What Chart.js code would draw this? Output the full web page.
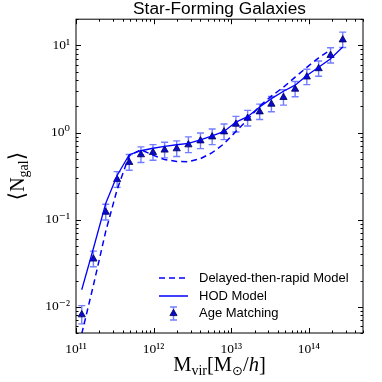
<!DOCTYPE html>
<html>
<head>
<meta charset="utf-8">
<script src="https://cdn.jsdelivr.net/npm/chart.js@4.4.1/dist/chart.umd.min.js"></script>
<style>
  html, body { margin: 0; padding: 0; background: #fff; }
</style>
</head>
<body>
<canvas id="chart" width="382" height="382"></canvas>
<script>
// halo mass bins (M_sun/h)
const massBins = [1.186e11, 1.675e11, 2.42e11, 3.39e11, 4.85e11, 6.87e11, 9.82e11, 1.387e12,
  1.986e12, 2.81e12, 4.02e12, 5.69e12, 8.09e12, 1.151e13, 1.63e13, 2.33e13, 3.30e13,
  4.72e13, 6.67e13, 9.44e13, 1.34e14, 1.91e14, 2.74e14];
const ageMatching = [0.0081, 0.0354, 0.122, 0.289, 0.455, 0.557, 0.591, 0.63, 0.652, 0.724,
  0.804, 0.893, 1.02, 1.247, 1.46, 1.73, 2.12, 2.53, 3.15, 4.35, 5.42, 7.69, 11.6];
// half-length of the error bars, in dex
const ageErrDex = [0.105, 0.09, 0.09, 0.09, 0.09, 0.09, 0.09, 0.09, 0.09, 0.09, 0.09, 0.09,
  0.09, 0.09, 0.09, 0.088, 0.088, 0.088, 0.088, 0.088, 0.088, 0.088, 0.088];
const hodModel = [0.0157, 0.0466, 0.154, 0.321, 0.557, 0.618, 0.66, 0.692, 0.724, 0.753, 0.826,
  0.917, 1.03, 1.32, 1.52, 1.96, 2.45, 2.98, 3.5, 4.51, 5.61, 7.02, 9.57];
const delayedModel = [0.0049, 0.0176, 0.0738, 0.222, 0.542, 0.635, 0.55, 0.489, 0.466, 0.463,
  0.501, 0.587, 0.743, 1.03, 1.41, 2.01, 2.62, 3.32, 4.32, 5.61, 7.2, 8.89];
const xTicks = [1e11, 1e12, 1e13, 1e14];
const yTicks = [0.01, 0.1, 1, 10];

const BLUE = '#0000ff';
const SERIF = '"Liberation Serif", "DejaVu Serif", serif';
const SANS = '"Liberation Sans", Arial, sans-serif';

const sup = { '0': '⁰', '1': '¹', '2': '²', '3': '³', '4': '⁴', '5': '⁵', '6': '⁶', '7': '⁷', '8': '⁸', '9': '⁹', '-': '⁻' };
function powLabel(v) {
  const e = String(Math.round(Math.log10(v)));
  return '10' + e.split('').map(c => sup[c]).join('');
}

function pts(ys) {
  return ys.map((y, i) => ({ x: massBins[i], y: y }));
}

// draws a run of text pieces, some lowered as subscripts
function drawPieces(ctx, pieces, cx, baseline) {
  let total = 0;
  pieces.forEach(p => { ctx.font = p.font; p.w = ctx.measureText(p.t).width; total += p.w; });
  let x = cx - total / 2;
  pieces.forEach(p => {
    ctx.font = p.font;
    ctx.fillText(p.t, x, baseline + (p.dy || 0));
    x += p.w;
  });
}

const framePlugin = {
  id: 'frame',
  beforeDatasetDraw(chart, args) {
    if (args.index !== 2) return;
    const ctx = chart.ctx, xs = chart.scales.x, ys = chart.scales.y;
    ctx.save();
    ctx.strokeStyle = 'rgba(20, 40, 255, 0.6)';
    ctx.lineWidth = 1.4;
    ageMatching.forEach((v, i) => {
      const px = xs.getPixelForValue(massBins[i]);
      const lo = ys.getPixelForValue(v / Math.pow(10, ageErrDex[i]));
      const hi = ys.getPixelForValue(v * Math.pow(10, ageErrDex[i]));
      ctx.beginPath();
      ctx.moveTo(px, lo); ctx.lineTo(px, hi);
      ctx.moveTo(px - 3.5, lo); ctx.lineTo(px + 3.5, lo);
      ctx.moveTo(px - 3.5, hi); ctx.lineTo(px + 3.5, hi);
      ctx.stroke();
    });
    ctx.restore();
  },
  afterDraw(chart) {
    const ctx = chart.ctx, a = chart.chartArea;
    const xs = chart.scales.x, ys = chart.scales.y;
    ctx.save();
    ctx.strokeStyle = '#000';
    ctx.lineWidth = 1;
    ctx.strokeRect(a.left, a.top, a.right - a.left, a.bottom - a.top);

    // inward ticks on all four sides
    ctx.beginPath();
    for (let d = 11; d <= 14; d++) {
      for (let k = 1; k <= 9; k++) {
        const v = k * Math.pow(10, d);
        if (v > xs.max) continue;
        const px = Math.round(xs.getPixelForValue(v)) + 0.5;
        const len = k === 1 ? 5 : 2.5;
        ctx.moveTo(px, a.bottom); ctx.lineTo(px, a.bottom - len);
        ctx.moveTo(px, a.top); ctx.lineTo(px, a.top + len);
      }
    }
    for (let d = -3; d <= 1; d++) {
      for (let k = 1; k <= 9; k++) {
        const v = k * Math.pow(10, d);
        if (v < ys.min || v > ys.max) continue;
        const py = Math.round(ys.getPixelForValue(v)) + 0.5;
        const len = k === 1 ? 5 : 2.5;
        ctx.moveTo(a.left, py); ctx.lineTo(a.left + len, py);
        ctx.moveTo(a.right, py); ctx.lineTo(a.right - len, py);
      }
    }
    ctx.stroke();

    // axis titles
    ctx.fillStyle = '#000';
    ctx.textBaseline = 'alphabetic';
    drawPieces(ctx, [
      { t: 'M', font: '20.5px ' + SERIF },
      { t: 'vir', font: '14px ' + SERIF, dy: 4 },
      { t: '[M', font: '20.5px ' + SERIF },
      { t: '⊙', font: '13px "DejaVu Sans"', dy: 4 },
      { t: '/', font: '20.5px ' + SERIF },
      { t: 'h', font: 'italic 20.5px ' + SERIF },
      { t: ']', font: '20.5px ' + SERIF }
    ], (a.left + a.right) / 2, 371);

    ctx.save();
    ctx.translate(24, (a.top + a.bottom) / 2);
    ctx.rotate(-Math.PI / 2);
    drawPieces(ctx, [
      { t: '⟨', font: '22px "DejaVu Serif"' },
      { t: 'N', font: '20px ' + SERIF },
      { t: 'gal', font: '14px ' + SERIF, dy: 4 },
      { t: '⟩', font: '22px "DejaVu Serif"' }
    ], 0, 0);
    ctx.restore();

    // legend, lower right inside the axes
    const lx0 = 159, lx1 = 188, tx = 199;
    const rows = [278, 296, 313.5];
    ctx.strokeStyle = BLUE;
    ctx.lineWidth = 1.5;
    ctx.setLineDash([6, 4]);
    ctx.beginPath(); ctx.moveTo(lx0, rows[0]); ctx.lineTo(lx1, rows[0]); ctx.stroke();
    ctx.setLineDash([]);
    ctx.beginPath(); ctx.moveTo(lx0, rows[1]); ctx.lineTo(lx1, rows[1]); ctx.stroke();
    const mx = (lx0 + lx1) / 2;
    ctx.strokeStyle = 'rgba(20, 40, 255, 0.6)';
    ctx.lineWidth = 1.4;
    ctx.beginPath();
    ctx.moveTo(mx, rows[2] - 6.5); ctx.lineTo(mx, rows[2] + 6.5);
    ctx.moveTo(mx - 3.5, rows[2] - 6.5); ctx.lineTo(mx + 3.5, rows[2] - 6.5);
    ctx.moveTo(mx - 3.5, rows[2] + 6.5); ctx.lineTo(mx + 3.5, rows[2] + 6.5);
    ctx.stroke();
    ctx.fillStyle = '#0a0acc';
    ctx.strokeStyle = '#000050';
    ctx.lineWidth = 0.8;
    ctx.beginPath();
    ctx.moveTo(mx, rows[2] - 4.2); ctx.lineTo(mx + 3.6, rows[2] + 2.1); ctx.lineTo(mx - 3.6, rows[2] + 2.1);
    ctx.closePath(); ctx.fill(); ctx.stroke();

    ctx.fillStyle = '#000';
    ctx.font = '13px ' + SANS;
    ctx.textBaseline = 'middle';
    ctx.fillText('Delayed-then-rapid Model', tx, rows[0]);
    ctx.fillText('HOD Model', tx, rows[1]);
    ctx.fillText('Age Matching', tx, rows[2]);
    ctx.restore();
  }
};

new Chart(document.getElementById('chart'), {
  type: 'scatter',
  data: {
    datasets: [
      {
        label: 'Delayed-then-rapid Model',
        data: pts(delayedModel),
        showLine: true,
        borderColor: BLUE,
        borderWidth: 1.5,
        borderDash: [6, 4],
        pointRadius: 0,
        tension: 0
      },
      {
        label: 'HOD Model',
        data: pts(hodModel),
        showLine: true,
        borderColor: BLUE,
        borderWidth: 1.3,
        pointRadius: 0,
        tension: 0
      },
      {
        label: 'Age Matching',
        data: pts(ageMatching),
        showLine: false,
        pointStyle: 'triangle',
        pointRadius: 4.2,
        backgroundColor: '#0a0acc',
        borderColor: '#000050',
        borderWidth: 0.8
      }
    ]
  },
  options: {
    responsive: false,
    animation: false,
    layout: { padding: { left: 0, right: 19, top: 0, bottom: 0 } },
    plugins: {
      legend: { display: false },
      tooltip: { enabled: false },
      title: {
        display: true,
        text: 'Star-Forming Galaxies',
        fullSize: false,
        color: '#000',
        font: { family: SANS, size: 17.3, weight: 'normal', lineHeight: 1 },
        padding: { top: 1.0, bottom: 0.9 }
      }
    },
    scales: {
      x: {
        type: 'logarithmic',
        min: 1e11,
        max: 5e14,
        grid: { display: false, drawTicks: false },
        border: { display: false },
        afterBuildTicks: s => { s.ticks = xTicks.map(v => ({ value: v })); },
        afterFit: s => { s.height = 49; },
        ticks: {
          autoSkip: false,
          maxRotation: 0,
          padding: 8,
          color: '#000',
          font: { family: SERIF, size: 13.5 },
          callback: v => powLabel(v)
        }
      },
      y: {
        type: 'logarithmic',
        min: 0.005,
        max: 20,
        grid: { display: false, drawTicks: false },
        border: { display: false },
        afterBuildTicks: s => { s.ticks = yTicks.map(v => ({ value: v })); },
        afterFit: s => { s.width = 76; },
        ticks: {
          autoSkip: false,
          padding: 6,
          color: '#000',
          font: { family: SERIF, size: 13.5 },
          callback: v => powLabel(v)
        }
      }
    }
  },
  plugins: [framePlugin]
});
</script>
</body>
</html>
